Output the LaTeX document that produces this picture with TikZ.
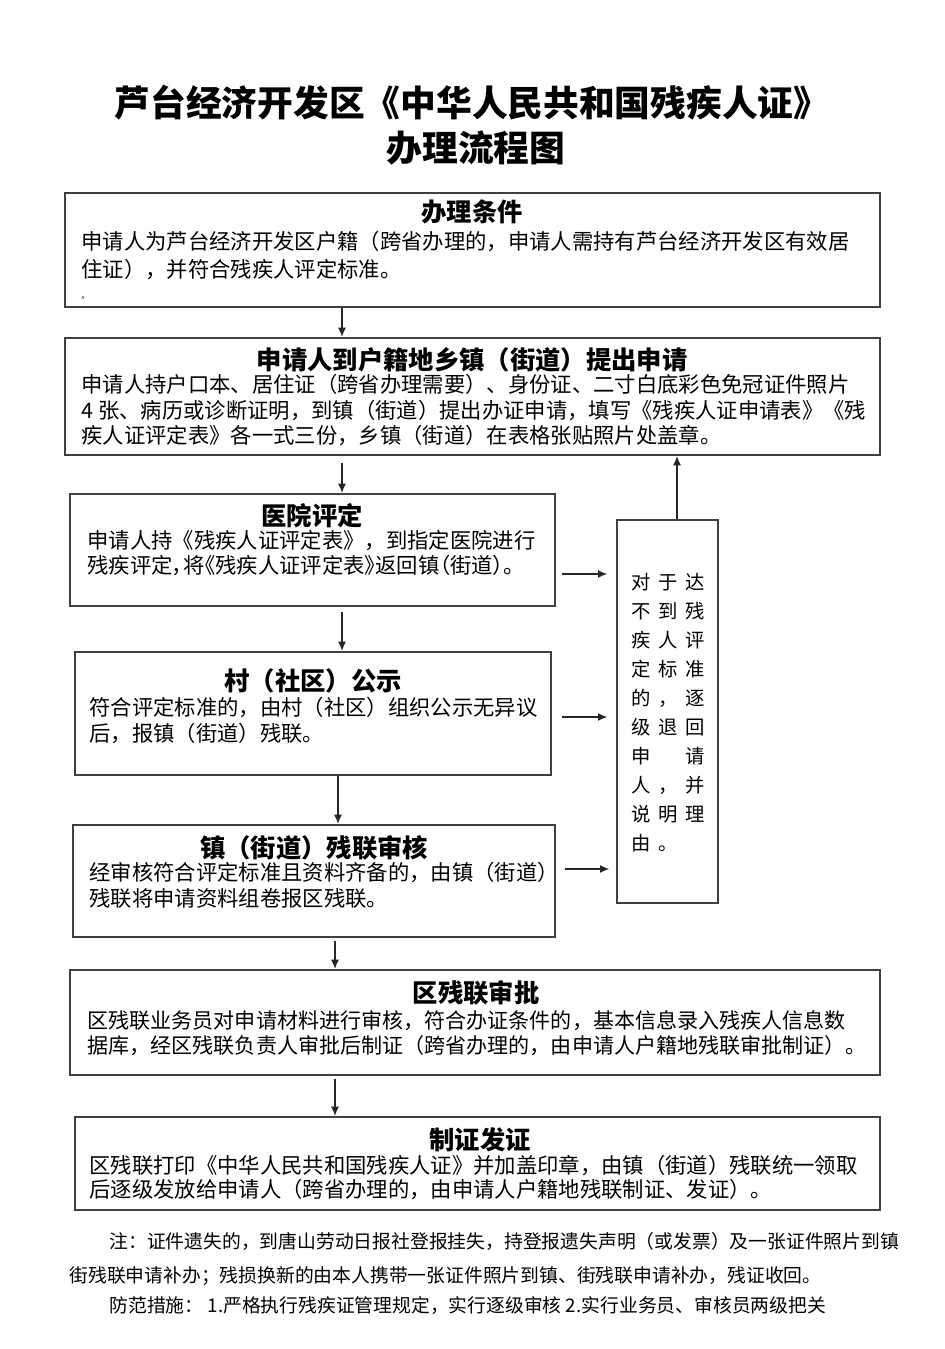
\documentclass[tikz,border=0pt]{standalone}
\usepackage{fontspec}
\setmainfont{Noto Sans CJK SC}
\newfontfamily\cjkp{Noto Sans CJK SC}[RawFeature=+palt]
\newfontfamily\cjkwide{Noto Sans CJK SC}[LetterSpace=40]
\usetikzlibrary{arrows.meta,fit}

\tikzset{every picture/.style={line width=0.75pt}}
\tikzset{
  flowbox/.style={draw=black!75, line width=1.5pt, inner sep=0pt},
  boxtitle/.style={font=\fontsize{19pt}{22pt}\selectfont\bfseries, inner sep=0.75pt},
  boxtext/.style={font=\fontsize{16pt}{19pt}\selectfont, align=left, anchor=north west, inner sep=0.75pt},
  notetext/.style={font=\fontsize{14.1pt}{17pt}\selectfont, anchor=west, inner sep=0.75pt},
  flowarrow/.style={draw=black!85, line width=1.1pt, -{Latex[length=7pt,width=6pt]}},
}

\begin{document}
\begin{tikzpicture}[x=0.75pt,y=0.75pt,yscale=-1,xscale=1]
\useasboundingbox (0,0) rectangle (945,1349);

% Title
\node (head1) [font=\fontsize{26.8pt}{30pt}\selectfont\bfseries, inner sep=0.75pt] at (472,103) {芦台经济开发区《中华人民共和国残疾人证》};
\node (head2) [font=\fontsize{26.8pt}{30pt}\selectfont\bfseries, inner sep=0.75pt] at (476,148) {办理流程图};

%Boxes
\node (cond) [flowbox, fit={(65,193) (880,307)}] {};
\node (apply) [flowbox, fit={(65,338) (880,455)}] {};
\node (hosp) [flowbox, fit={(70,494) (555,606)}] {};
\node (notice) [flowbox, fit={(75,652) (551,775)}] {};
\node (townchk) [flowbox, fit={(73,825) (555,937)}] {};
\node (distok) [flowbox, fit={(70,970) (880,1075)}] {};
\node (issue) [flowbox, fit={(75,1117) (880,1210)}] {};
\node (back) [flowbox, fit={(617,520) (718,903)}] {};

% Text Node
\node (condT) [boxtitle] at (472,212) {办理条件};
\node (condB) [boxtext, font=\fontsize{16pt}{21pt}\selectfont] at (80,230) {申请人为芦台经济开发区户籍（跨省办理的，申请人需持有芦台经济开发区有效居\\住证），并符合残疾人评定标准。};
\node (condM) [font=\tiny, inner sep=0pt] at (83,299) {\textasciicircum};
% Text Node
\node (applyT) [boxtitle] at (472,360) {申请人到户籍地乡镇（街道）提出申请};
\node (applyB) [boxtext] at (80,373) {申请人持户口本、居住证（跨省办理需要）、身份证、二寸白底彩色免冠证件照片\\4 张、病历或诊断证明，到镇（街道）提出办证申请，填写《残疾人证申请表》《残\\疾人证评定表》各一式三份，乡镇（街道）在表格张贴照片处盖章。};
% Text Node
\node (hospT) [boxtitle] at (312,516) {医院评定};
\node (hospB) [boxtext] at (86,529) {申请人持《残疾人证评定表》，到指定医院进行\\{\cjkp 残疾评定，将《残疾人证评定表》返回镇（街道）。}};
% Text Node
\node (noticeT) [boxtitle] at (313,681) {村（社区）公示};
\node (noticeB) [boxtext] at (88,696) {符合评定标准的，由村（社区）组织公示无异议\\后，报镇（街道）残联。};
% Text Node
\node (townchkT) [boxtitle] at (314,848) {镇（街道）残联审核};
\node (townchkB) [boxtext] at (88,861) {经审核符合评定标准且资料齐备的，由镇（街道）\\残联将申请资料组卷报区残联。};
% Text Node
\node (distokT) [boxtitle] at (476,993) {区残联审批};
\node (distokB) [boxtext, font=\fontsize{15.8pt}{19pt}\selectfont] at (86,1009) {区残联业务员对申请材料进行审核，符合办证条件的，基本信息录入残疾人信息数\\据库，经区残联负责人审批后制证（跨省办理的，由申请人户籍地残联审批制证）。};
% Text Node
\node (issueT) [boxtitle] at (480,1140) {制证发证};
\node (issueB) [boxtext, font=\fontsize{16pt}{17.6pt}\selectfont] at (88,1154) {区残联打印《中华人民共和国残疾人证》并加盖印章，由镇（街道）残联统一领取\\后逐级发放给申请人（跨省办理的，由申请人户籍地残联制证、发证）。};
% Text Node
\node (backB) [boxtext, font=\fontsize{14.5pt}{21.75pt}\selectfont\cjkwide] at (630,572) {对于达\\不到残\\疾人评\\定标准\\的，逐\\级退回\\申　请\\人，并\\说明理\\由。};

% Notes
\node (note1) [notetext] at (108,1241) {注：证件遗失的，到唐山劳动日报社登报挂失，持登报遗失声明（或发票）及一张证件照片到镇};
\node (note2) [notetext] at (68,1276) {街残联申请补办；残损换新的由本人携带一张证件照片到镇、街残联申请补办，残证收回。};
\node (note3) [notetext] at (108,1306) {防范措施：\ 1.严格执行残疾证管理规定，实行逐级审核 2.实行业务员、审核员两级把关};

%Straight Lines
\coordinate (ca) at (342,0);
\coordinate (cb) at (338,0);
\coordinate (cc) at (335,0);
\coordinate (ux) at (677,0);
\draw [flowarrow] (cond.south -| ca) -- (apply.north -| ca);
\draw [flowarrow, shorten <=5pt] (apply.south -| ca) -- (hosp.north -| ca);
\draw [flowarrow, shorten <=4pt] (hosp.south -| ca) -- (notice.north -| ca);
\draw [flowarrow] (notice.south -| cb) -- (townchk.north -| cb);
\draw [flowarrow, shorten <=2pt] (townchk.south -| cc) -- (distok.north -| cc);
\draw [flowarrow, shorten <=2pt] (distok.south -| cc) -- (issue.north -| cc);
\draw [flowarrow] (back.north -| ux) -- (apply.south -| ux);

\coordinate (s1) at (562,574);
\coordinate (s2) at (562,717);
\coordinate (s3) at (565,869);
\draw [flowarrow, shorten >=6.5pt] (s1) -- (s1 -| back.west);
\draw [flowarrow, shorten >=6.5pt] (s2) -- (s2 -| back.west);
\draw [flowarrow, shorten >=5pt] (s3) -- (s3 -| back.west);

\end{tikzpicture}
\end{document}
